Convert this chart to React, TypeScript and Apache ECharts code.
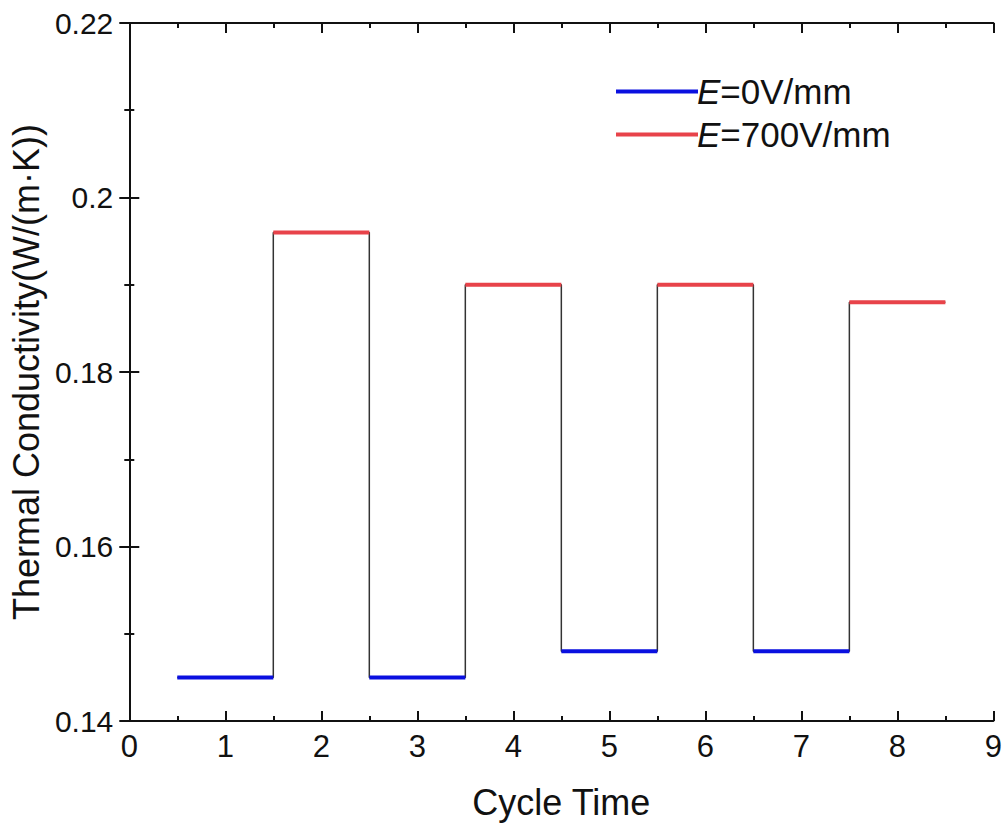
import React, { useEffect, useRef } from "react";
import * as echarts from "echarts";

const blueCycles = [1, 3, 5, 7];
const blueValues = [0.145, 0.145, 0.148, 0.148];
const redCycles = [2, 4, 6, 8];
const redValues = [0.196, 0.19, 0.19, 0.188];
const xTicks = [0, 1, 2, 3, 4, 5, 6, 7, 8, 9];
const yTicks = [0.14, 0.16, 0.18, 0.2, 0.22];
const seriesNames = ["E=0V/mm", "E=700V/mm"];

const FONT = "Liberation Sans, Arial, sans-serif";

function segments(cycles: number[], values: number[]) {
  const out: any[] = [];
  cycles.forEach((c, i) => {
    if (i > 0) out.push("-");
    out.push([c - 0.5, values[i]]);
    out.push([c + 0.5, values[i]]);
  });
  return out;
}

function stepPath() {
  const all: { c: number; v: number }[] = [];
  blueCycles.forEach((c, i) => all.push({ c, v: blueValues[i] }));
  redCycles.forEach((c, i) => all.push({ c, v: redValues[i] }));
  all.sort((a, b) => a.c - b.c);
  const out: number[][] = [];
  all.forEach((p) => {
    out.push([p.c - 0.5, p.v]);
    out.push([p.c + 0.5, p.v]);
  });
  return out;
}

export default function App() {
  const ref = useRef<HTMLDivElement>(null);
  useEffect(() => {
    const chart = echarts.init(ref.current!, null, { renderer: "svg" });
    const axisLine = { show: true, lineStyle: { color: "#111", width: 2 } };
    const tick = { show: true, inside: true, length: 10, lineStyle: { color: "#111", width: 2 } };
    const minor = { show: true, splitNumber: 2, length: 5, lineStyle: { color: "#111", width: 2 } };
    const fmtY = (v: number) => String(Number(v.toFixed(2)));
    chart.setOption({
      animation: false,
      backgroundColor: "#fff",
      grid: { left: 128.5, right: 10, top: 23, bottom: 103 },
      legend: {
        orient: "vertical",
        left: 611,
        top: 69,
        itemWidth: 82,
        itemHeight: 4,
        itemGap: 8,
        icon: "rect",
        data: seriesNames,
        formatter: (name: string) => "{i|E}" + name.slice(1),
        textStyle: {
          fontFamily: FONT,
          fontSize: 35,
          color: "#111",
          padding: [0, 0, 0, -6],
          rich: {
            i: { fontFamily: FONT, fontSize: 35, fontStyle: "italic", color: "#111" },
          },
        },
      },
      xAxis: [
        {
          type: "value",
          min: xTicks[0],
          max: xTicks[xTicks.length - 1],
          interval: 1,
          position: "bottom",
          name: "Cycle Time",
          nameLocation: "middle",
          nameGap: 63,
          nameTextStyle: { fontFamily: FONT, fontSize: 36, color: "#111" },
          axisLine,
          axisTick: tick,
          minorTick: minor,
          axisLabel: { fontFamily: FONT, fontSize: 31, color: "#111", margin: 10 },
          splitLine: { show: false },
        },
        {
          type: "value",
          min: xTicks[0],
          max: xTicks[xTicks.length - 1],
          interval: 1,
          position: "top",
          axisLine,
          axisTick: tick,
          minorTick: minor,
          axisLabel: { show: false },
          splitLine: { show: false },
        },
      ],
      yAxis: [
        {
          type: "value",
          min: yTicks[0],
          max: yTicks[yTicks.length - 1],
          interval: 0.02,
          position: "left",
          name: "Thermal Conductivity(W/(m·K))",
          nameLocation: "middle",
          nameGap: 80,
          nameTextStyle: { fontFamily: FONT, fontSize: 36, color: "#111" },
          axisLine,
          axisTick: tick,
          minorTick: minor,
          axisLabel: { fontFamily: FONT, fontSize: 30, color: "#111", margin: 16, formatter: fmtY },
          splitLine: { show: false },
        },
        {
          type: "value",
          min: yTicks[0],
          max: yTicks[yTicks.length - 1],
          interval: 0.02,
          position: "right",
          axisLine,
          axisTick: tick,
          minorTick: minor,
          axisLabel: { show: false },
          splitLine: { show: false },
        },
      ],
      series: [
        {
          name: "connector",
          type: "line",
          data: stepPath(),
          symbol: "none",
          lineStyle: { color: "#333", width: 1.5 },
          z: 1,
          silent: true,
        },
        {
          name: seriesNames[0],
          type: "line",
          data: segments(blueCycles, blueValues),
          symbol: "none",
          connectNulls: false,
          lineStyle: { color: "#0a10e0", width: 4 },
          itemStyle: { color: "#0a10e0" },
          z: 3,
        },
        {
          name: seriesNames[1],
          type: "line",
          data: segments(redCycles, redValues),
          symbol: "none",
          connectNulls: false,
          lineStyle: { color: "#e8434a", width: 4 },
          itemStyle: { color: "#e8434a" },
          z: 3,
        },
      ],
    });
    return () => chart.dispose();
  }, []);
  return (
    <div
      ref={ref}
      style={{ position: "absolute", left: 0, top: 0, width: 1005, height: 825, background: "#fff" }}
    />
  );
}
